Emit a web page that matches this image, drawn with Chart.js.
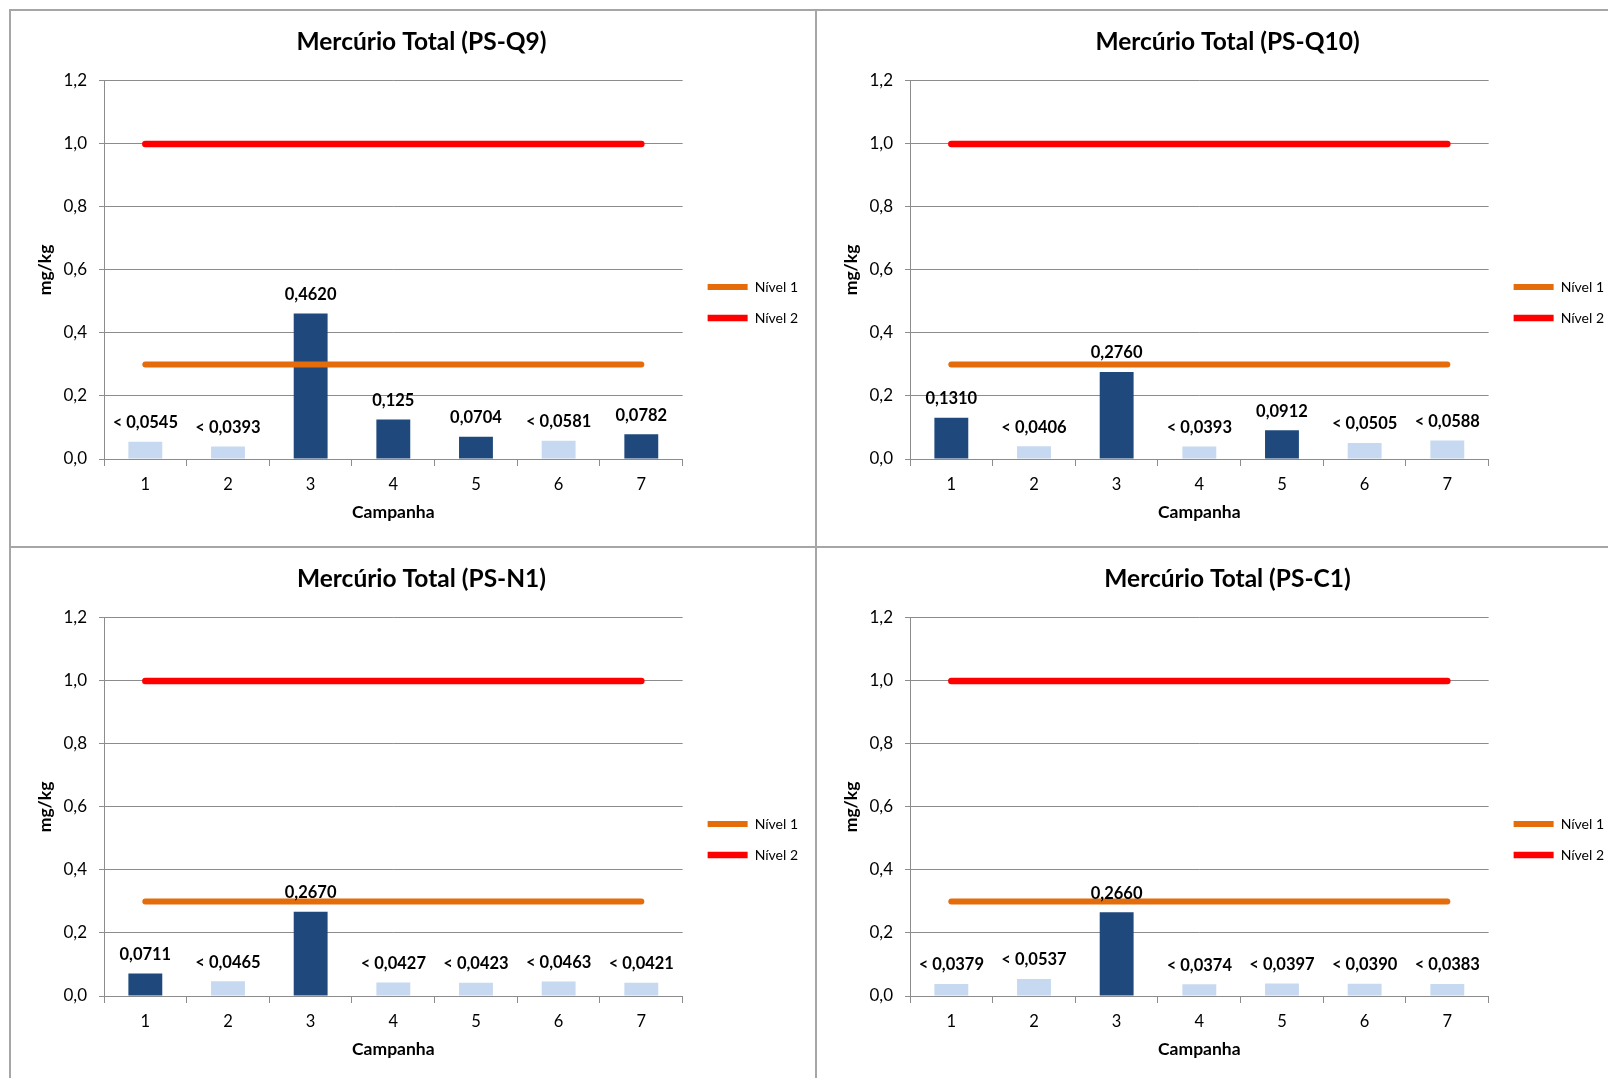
<!DOCTYPE html>
<html>
<head>
<meta charset="utf-8">
<script src="https://cdn.jsdelivr.net/npm/chart.js@4/dist/chart.umd.min.js"></script>
<style>
  html, body { margin: 0; padding: 0; background: #ffffff; }
  body { width: 1608px; height: 1078px; position: relative; overflow: hidden; }
  .panel { position: absolute; width: 806px; height: 537px; }
  .vline { position: absolute; width: 2px; background: #a6a6a6; }
  .hline { position: absolute; height: 2px; background: #a6a6a6; }
</style>
</head>
<body>
<div class="hline" style="left:10px; top:9px; width:1598px;"></div>
<div class="hline" style="left:10px; top:546px; width:1598px;"></div>
<div class="vline" style="left:9px; top:9px; height:1069px;"></div>
<div class="vline" style="left:815px; top:9px; height:1069px;"></div>

<div class="panel" style="left:10px; top:10px;"><canvas id="c1" width="806" height="537"></canvas></div>
<div class="panel" style="left:816px; top:10px;"><canvas id="c2" width="806" height="537"></canvas></div>
<div class="panel" style="left:10px; top:547px;"><canvas id="c3" width="806" height="537"></canvas></div>
<div class="panel" style="left:816px; top:547px;"><canvas id="c4" width="806" height="537"></canvas></div>

<script>
// ---- Data ----
const campaigns = ['1', '2', '3', '4', '5', '6', '7'];
const yTicks = [0, 0.2, 0.4, 0.6, 0.8, 1.0, 1.2];
const nivel1 = 0.3;
const nivel2 = 1.0;

const titleQ9 = 'Mercúrio Total (PS-Q9)';
const valuesQ9 = [0.0545, 0.0393, 0.4620, 0.125, 0.0704, 0.0581, 0.0782];
const belowQ9 = [true, true, false, false, false, true, false];
const labelsQ9 = ['< 0,0545', '< 0,0393', '0,4620', '0,125', '0,0704', '< 0,0581', '0,0782'];

const titleQ10 = 'Mercúrio Total (PS-Q10)';
const valuesQ10 = [0.1310, 0.0406, 0.2760, 0.0393, 0.0912, 0.0505, 0.0588];
const belowQ10 = [false, true, false, true, false, true, true];
const labelsQ10 = ['0,1310', '< 0,0406', '0,2760', '< 0,0393', '0,0912', '< 0,0505', '< 0,0588'];

const titleN1 = 'Mercúrio Total (PS-N1)';
const valuesN1 = [0.0711, 0.0465, 0.2670, 0.0427, 0.0423, 0.0463, 0.0421];
const belowN1 = [false, true, false, true, true, true, true];
const labelsN1 = ['0,0711', '< 0,0465', '0,2670', '< 0,0427', '< 0,0423', '< 0,0463', '< 0,0421'];

const titleC1 = 'Mercúrio Total (PS-C1)';
const valuesC1 = [0.0379, 0.0537, 0.2660, 0.0374, 0.0397, 0.0390, 0.0383];
const belowC1 = [true, true, false, true, true, true, true];
const labelsC1 = ['< 0,0379', '< 0,0537', '0,2660', '< 0,0374', '< 0,0397', '< 0,0390', '< 0,0383'];

// ---- Styles ----
const FONT = 'Lato, "Open Sans", sans-serif';
const DARK = '#1F497D';
const LIGHT = '#C6D9F1';
const ORANGE = '#E46C0A';
const RED = '#FF0000';
const GRID = '#8c8c8c';

const valueLabelPlugin = {
  id: 'valueLabels',
  afterDatasetsDraw(chart) {
    const ctx = chart.ctx;
    const labels = chart.options.plugins.valueLabels.labels;
    chart.data.datasets.forEach((ds, i) => {
      if (ds.type !== 'bar') return;
      const meta = chart.getDatasetMeta(i);
      ctx.save();
      ctx.font = 'bold 16.5px ' + FONT;
      ctx.fillStyle = '#000';
      ctx.textAlign = 'center';
      ctx.textBaseline = 'middle';
      meta.data.forEach((bar, j) => {
        ctx.fillText(labels[j], bar.x, bar.y - 19);
      });
      ctx.restore();
    });
  }
};

function makeChart(id, title, values, below, labels) {
  const fmt = v => Number(v).toFixed(1).replace('.', ',');
  new Chart(document.getElementById(id), {
    data: {
      labels: campaigns,
      datasets: [
        {
          type: 'bar',
          label: 'Hg',
          data: values,
          backgroundColor: below.map(b => b ? LIGHT : DARK),
          borderWidth: 0,
          barPercentage: 0.41,
          categoryPercentage: 1,
          order: 2
        },
        {
          type: 'line',
          label: 'Nível 1',
          data: campaigns.map(() => nivel1),
          borderColor: ORANGE,
          backgroundColor: ORANGE,
          borderWidth: 6,
          borderCapStyle: 'round',
          pointRadius: 0,
          pointStyle: 'line',
          order: 1
        },
        {
          type: 'line',
          label: 'Nível 2',
          data: campaigns.map(() => nivel2),
          borderColor: RED,
          backgroundColor: RED,
          borderWidth: 6.5,
          borderCapStyle: 'round',
          pointRadius: 0,
          pointStyle: 'line',
          order: 0
        }
      ]
    },
    options: {
      responsive: false,
      animation: false,
      devicePixelRatio: 1,
      layout: { padding: { left: 25, right: 8, top: 0, bottom: 0 } },
      plugins: {
        title: {
          display: true,
          text: title,
          color: '#000',
          font: { family: FONT, size: 24.5, weight: 'bold' },
          padding: { top: 17.5, bottom: 24 }
        },
        legend: {
          position: 'right',
          title: { display: true, text: ' ', font: { size: 1 }, padding: { top: 47, bottom: 0 } },
          labels: {
            filter: item => item.text !== 'Hg',
            sort: (a, b) => a.datasetIndex - b.datasetIndex,
            usePointStyle: true,
            pointStyle: 'line',
            boxWidth: 40,
            pointStyleWidth: 40,
            padding: 17,
            color: '#000',
            font: { family: FONT, size: 14 }
          }
        },
        tooltip: { enabled: false },
        valueLabels: { labels: labels }
      },
      scales: {
        x: {
          offset: true,
          grid: { offset: true, drawOnChartArea: false, drawTicks: true, tickLength: 7, color: GRID },
          border: { color: GRID },
          ticks: { color: '#000', font: { family: FONT, size: 16.5 }, padding: 9 },
          title: {
            display: true, text: 'Campanha', color: '#000',
            font: { family: FONT, size: 17.5, weight: 'bold' },
            padding: { top: 4, bottom: 24 }
          },
          afterFit: s => { s.height = 88; }
        },
        y: {
          min: 0, max: 1.2,
          afterBuildTicks: s => { s.ticks = yTicks.map(v => ({ value: v })); },
          grid: { color: GRID, tickLength: 5 },
          border: { color: GRID },
          ticks: { color: '#000', font: { family: FONT, size: 17 }, padding: 12, callback: v => fmt(v) },
          title: {
            display: true, text: 'mg/kg', color: '#000',
            font: { family: FONT, size: 17.5, weight: 'bold' },
            padding: { top: 0, bottom: 4 }
          },
          afterFit: s => { s.width = 69; }
        },
        gap: {
          position: 'right',
          display: true,
          grid: { display: false },
          border: { display: false },
          ticks: { display: false },
          afterFit: s => { s.width = 8; }
        }
      }
    },
    plugins: [valueLabelPlugin]
  });
}

makeChart('c1', titleQ9, valuesQ9, belowQ9, labelsQ9);
makeChart('c2', titleQ10, valuesQ10, belowQ10, labelsQ10);
makeChart('c3', titleN1, valuesN1, belowN1, labelsN1);
makeChart('c4', titleC1, valuesC1, belowC1, labelsC1);
</script>
</body>
</html>
